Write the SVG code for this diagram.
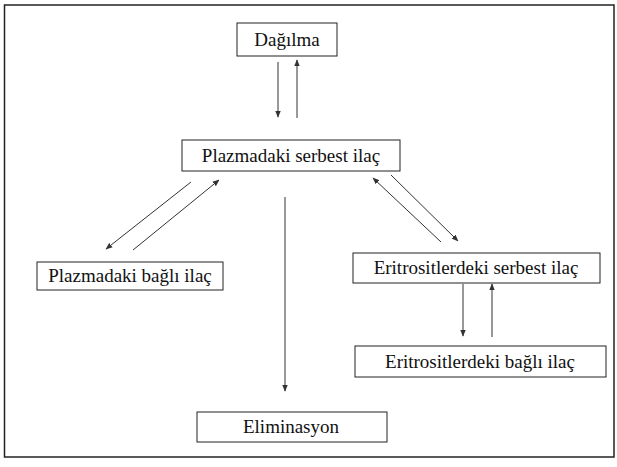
<svg xmlns="http://www.w3.org/2000/svg" width="617" height="467" viewBox="0 0 617 467">
<style>
.box{fill:#fff;stroke:#222;stroke-width:1}
.lbl{font-family:"Liberation Serif","Times New Roman","DejaVu Serif",serif;font-size:19px;fill:#111;text-anchor:middle}
.c{stroke:#333;stroke-width:1;fill:none;marker-end:url(#ah)}
</style>
<defs>
<marker id="ah" viewBox="0 0 10 10" refX="9" refY="5" markerWidth="7" markerHeight="7" orient="auto" markerUnits="userSpaceOnUse">
<path d="M0,1 L10,5 L0,9 Z" fill="#333"/>
</marker>
</defs>
<rect x="0" y="0" width="617" height="467" fill="#fff"/>
<rect x="4.5" y="5" width="609.5" height="452" fill="none" stroke="#222" stroke-width="1.5"/>
<g id="connectors">
<line class="c" x1="278" y1="62" x2="278" y2="117"/>
<line class="c" x1="297" y1="118" x2="297" y2="60"/>
<line class="c" x1="191" y1="182" x2="106" y2="249"/>
<line class="c" x1="133" y1="250" x2="219" y2="180"/>
<line class="c" x1="441" y1="242" x2="373" y2="178"/>
<line class="c" x1="391" y1="175" x2="458" y2="241"/>
<line class="c" x1="285" y1="197" x2="285" y2="391"/>
<line class="c" x1="463" y1="284" x2="463" y2="336"/>
<line class="c" x1="492" y1="337" x2="492" y2="284"/>
</g>
<g id="dagilma">
<rect class="box" x="237" y="23" width="100" height="33"/>
<text class="lbl" x="287" y="46">Dağılma</text>
</g>
<g id="plazma-serbest">
<rect class="box" x="182" y="140" width="218" height="31"/>
<text class="lbl" x="291" y="162">Plazmadaki serbest ilaç</text>
</g>
<g id="plazma-bagli">
<rect class="box" x="37" y="262" width="186" height="28"/>
<text class="lbl" x="130" y="282">Plazmadaki bağlı ilaç</text>
</g>
<g id="eritrosit-serbest">
<rect class="box" x="353" y="253" width="247" height="30"/>
<text class="lbl" x="476" y="274">Eritrositlerdeki serbest ilaç</text>
</g>
<g id="eritrosit-bagli">
<rect class="box" x="355" y="346" width="251" height="31"/>
<text class="lbl" x="480" y="368">Eritrositlerdeki bağlı ilaç</text>
</g>
<g id="eliminasyon">
<rect class="box" x="197" y="412" width="190" height="30"/>
<text class="lbl" x="291" y="433">Eliminasyon</text>
</g>
</svg>
